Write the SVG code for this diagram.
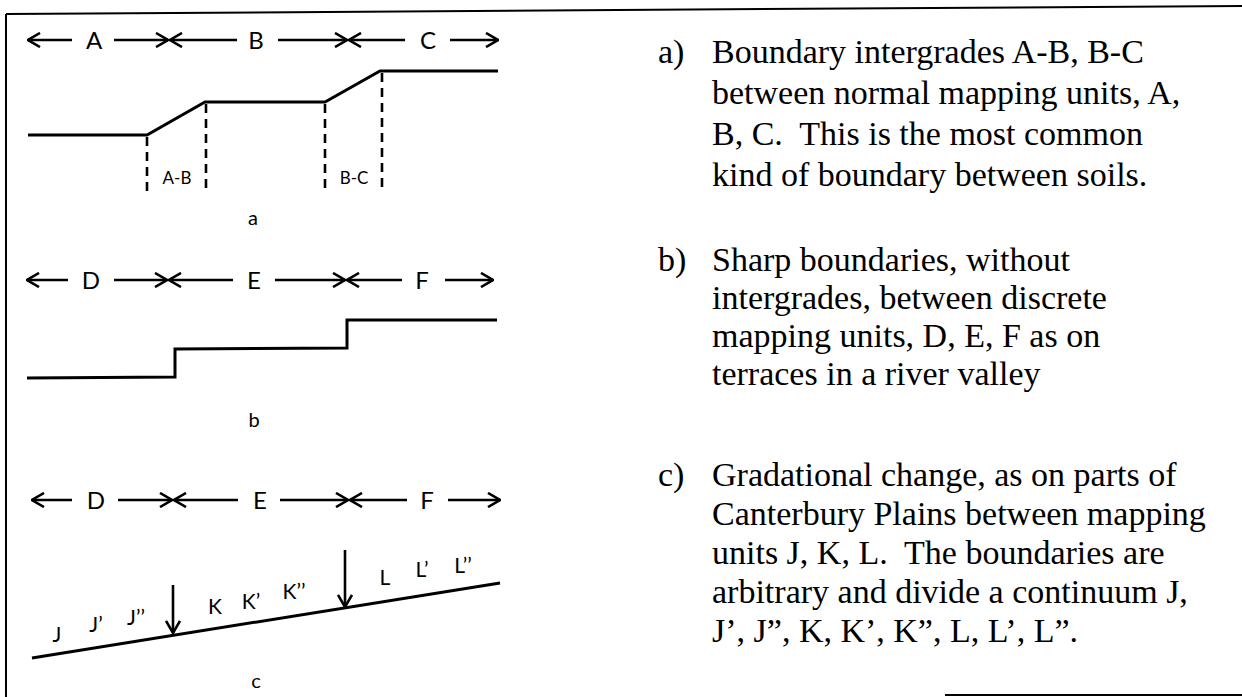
<svg xmlns="http://www.w3.org/2000/svg" width="1242" height="697" viewBox="0 0 1242 697">
<style>
.bg{fill:#fff}
.frame{stroke:#000;stroke-width:2;fill:none}
.arr{stroke:#000;stroke-width:2.6;fill:none;marker-end:url(#chev)}
.prof{stroke:#000;stroke-width:3;fill:none;stroke-linejoin:miter}
.dash{stroke:#000;stroke-width:2.6;stroke-dasharray:9,6;fill:none}
.big{font-family:Lato,"Liberation Sans",Arial,sans-serif;font-size:24px;fill:#000;text-anchor:middle}
.sm{font-family:Lato,"Liberation Sans",Arial,sans-serif;font-size:17px;fill:#000;text-anchor:middle}
.cap{font-family:Lato,"Liberation Sans",Arial,sans-serif;font-size:20px;fill:#000;text-anchor:middle}
.lab{font-family:Lato,"Liberation Sans",Arial,sans-serif;font-size:21px;fill:#000;text-anchor:middle}
.txt{font-family:"Liberation Serif","Times New Roman",serif;font-size:34px;fill:#000}
</style>
<defs>
<marker id="chev" viewBox="0 0 14 16" refX="13" refY="8" markerWidth="14" markerHeight="16" markerUnits="userSpaceOnUse" orient="auto">
<path d="M1,1 L13,8 L1,15" stroke="#000" stroke-width="2.6" fill="none"/>
</marker>
</defs>
<rect class="bg" x="0" y="0" width="1242" height="697"/>
<g id="frame">
<line class="frame" x1="6" y1="14" x2="1242" y2="6"/>
<line class="frame" x1="6" y1="14" x2="6" y2="697"/>
<line class="frame" x1="945" y1="695" x2="1242" y2="695"/>
</g>
<g id="connectors">
<line class="arr" x1="72" y1="40" x2="28" y2="40"/>
<line class="arr" x1="114" y1="40" x2="168" y2="40"/>
<line class="arr" x1="237" y1="40" x2="170" y2="40"/>
<line class="arr" x1="278" y1="40" x2="347" y2="40"/>
<line class="arr" x1="405" y1="40" x2="349" y2="40"/>
<line class="arr" x1="450" y1="40" x2="498" y2="40"/>
<line class="arr" x1="68" y1="280" x2="27" y2="280"/>
<line class="arr" x1="114" y1="280" x2="167" y2="280"/>
<line class="arr" x1="233" y1="280" x2="169" y2="280"/>
<line class="arr" x1="275" y1="280" x2="345" y2="280"/>
<line class="arr" x1="402" y1="280" x2="347" y2="280"/>
<line class="arr" x1="445" y1="280" x2="493" y2="280"/>
<line class="arr" x1="72" y1="500" x2="32" y2="500"/>
<line class="arr" x1="118" y1="500" x2="172" y2="500"/>
<line class="arr" x1="238" y1="500" x2="174" y2="500"/>
<line class="arr" x1="280" y1="500" x2="348" y2="500"/>
<line class="arr" x1="407" y1="500" x2="350" y2="500"/>
<line class="arr" x1="448" y1="500" x2="500" y2="500"/>
<line class="arr" x1="173" y1="585" x2="173" y2="633"/>
<line class="arr" x1="345" y1="550" x2="345" y2="607"/>
</g>
<g id="panel-a">
<text class="big" x="94" y="49">A</text>
<text class="big" x="256" y="49">B</text>
<text class="big" x="428" y="49">C</text>
<polyline class="prof" points="28,135 147,135 205,102 325,102 380,71 498,71"/>
<line class="dash" x1="147" y1="137" x2="147" y2="193"/>
<line class="dash" x1="206" y1="104" x2="206" y2="193"/>
<line class="dash" x1="325" y1="104" x2="325" y2="193"/>
<line class="dash" x1="382" y1="73" x2="382" y2="193"/>
<text class="sm" x="177" y="184">A-B</text>
<text class="sm" x="354" y="184">B-C</text>
<text class="cap" x="253" y="225">a</text>
</g>
<g id="panel-b">
<text class="big" x="91" y="289">D</text>
<text class="big" x="254" y="289">E</text>
<text class="big" x="422" y="289">F</text>
<polyline class="prof" points="27,378 175,377 175,349 347,348 347,320 497,320"/>
<text class="cap" x="254" y="427">b</text>
</g>
<g id="panel-c">
<text class="big" x="96" y="509">D</text>
<text class="big" x="260" y="509">E</text>
<text class="big" x="427" y="509">F</text>
<line class="prof" x1="32" y1="658" x2="500" y2="583"/>
<text class="lab" x="57" y="642">J</text>
<text class="lab" x="96" y="632">J’</text>
<text class="lab" x="136" y="625">J’’</text>
<text class="lab" x="215" y="614">K</text>
<text class="lab" x="251" y="609">K’</text>
<text class="lab" x="294" y="599">K’’</text>
<text class="lab" x="385" y="585">L</text>
<text class="lab" x="422" y="577">L’</text>
<text class="lab" x="463" y="573">L’’</text>
<text class="cap" x="256" y="688">c</text>
</g>
<g id="caption-a" class="txt">
<text x="658" y="63">a)</text>
<text x="712" y="63">Boundary intergrades A-B, B-C</text>
<text x="712" y="104">between normal mapping units, A,</text>
<text x="712" y="145" xml:space="preserve">B, C.  This is the most common</text>
<text x="712" y="186">kind of boundary between soils.</text>
</g>
<g id="caption-b" class="txt">
<text x="658" y="271">b)</text>
<text x="712" y="271">Sharp boundaries, without</text>
<text x="712" y="309">intergrades, between discrete</text>
<text x="712" y="347">mapping units, D, E, F as on</text>
<text x="712" y="385">terraces in a river valley</text>
</g>
<g id="caption-c" class="txt">
<text x="658" y="486">c)</text>
<text x="712" y="486">Gradational change, as on parts of</text>
<text x="712" y="525">Canterbury Plains between mapping</text>
<text x="712" y="564" xml:space="preserve">units J, K, L.  The boundaries are</text>
<text x="712" y="603">arbitrary and divide a continuum J,</text>
<text x="712" y="642">J’, J”, K, K’, K”, L, L’, L”.</text>
</g>
</svg>
